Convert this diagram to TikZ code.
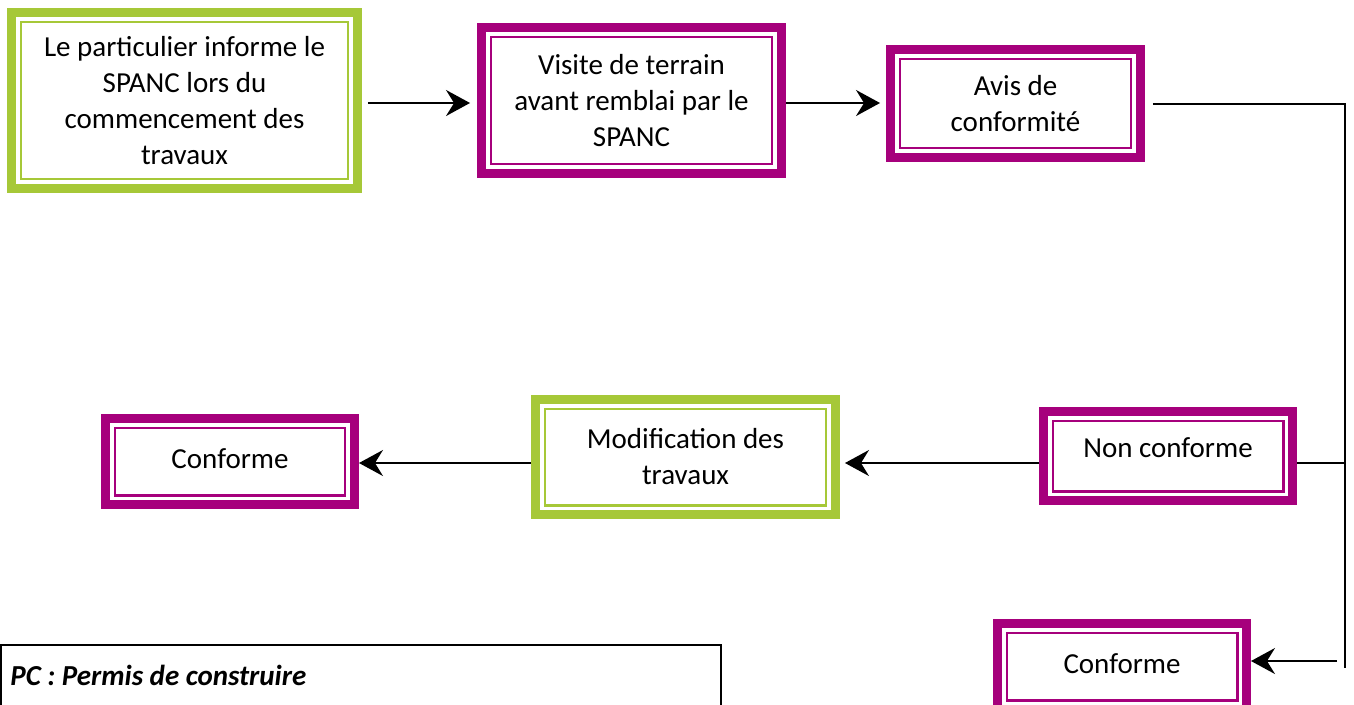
\documentclass[tikz,border=0pt]{standalone}
\usepackage{fontspec}
\setmainfont{Carlito}
\usetikzlibrary{arrows.meta}

\definecolor{prune}{RGB}{166,0,124}
\definecolor{vert}{RGB}{166,200,56}
\newcommand\etapefont{\fontsize{16.5}{20.5}\selectfont}

\tikzset{
  etape/.style={draw=#1, line width=0.18cm, fill=white, align=center, inner sep=0pt, font=\etapefont,
    path picture={\draw[#1, line width=0.05cm]
      ([shift={(0.185cm,0.185cm)}]path picture bounding box.south west) rectangle
      ([shift={(-0.185cm,-0.185cm)}]path picture bounding box.north east);}},
  trait/.style={line width=0.035cm},
  fleche/.style={trait, -{Stealth[length=0.48cm, width=0.52cm, inset=0.16cm]}}
}

\begin{document}
\begin{tikzpicture}[x=0.02cm, y=-0.02cm]

        \useasboundingbox (0,0) rectangle (1354,704);
        \clip (0,0) rectangle (1354,704);

        %===========================
        % Etapes du haut
        %===========================

        \node (inform) at (184.5,100.5) [etape=vert, minimum width=6.92cm, minimum height=3.52cm]
              {Le particulier informe le\\SPANC lors du\\commencement des\\travaux};
        \node (visite) at (631.5,100.5) [etape=prune, minimum width=6.0cm, minimum height=2.92cm]
              {Visite de terrain\\avant remblai par le\\SPANC};
        \node (avis) at (1015.5,103.5) [etape=prune, minimum width=5.0cm, minimum height=2.16cm]
              {Avis de\\conformit\'e};

        %===========================
        % Etapes du bas
        %===========================

        \node (nonconf) at (1168,456) [etape=prune, minimum width=4.98cm, minimum height=1.78cm,
              text depth=0.32cm] {Non conforme};
        \node (modif) at (685.5,457) [etape=vert, minimum width=6.0cm, minimum height=2.3cm]
              {Modification des\\travaux};
        \node (conf1) at (230,461.5) [etape=prune, minimum width=4.98cm, minimum height=1.72cm,
              text depth=0.12cm] {Conforme};
        \node (conf2) at (1122,666.5) [etape=prune, minimum width=4.98cm, minimum height=1.72cm,
              text depth=0.12cm] {Conforme};

        % Legende
        \draw[line width=0.03cm] (1,645) rectangle (721,730);
        \node (legende) at (10,675) [anchor=west, inner sep=0pt, font=\etapefont\bfseries\itshape]
              {PC : Permis de construire};

        %===========================
        % Liaisons
        %===========================

        \coordinate (ligne1) at (0,103);
        \coordinate (coin) at (1345,104);
        \coordinate (jonction) at (1345,463);
        \coordinate (pied) at (1345,668);
        \coordinate (depart) at (1337,661);

        \draw[fleche, shorten <=0.12cm, shorten >=0.14cm] (inform.east |- ligne1) to (visite.west |- ligne1);
        \draw[fleche, shorten >=0.12cm] (visite.east |- ligne1) to (avis.west |- ligne1);

        % Cote droit
        \draw[trait, shorten <=0.16cm] (avis.east |- coin) -- (coin) -- (pied);
        \draw[trait] (nonconf.east |- jonction) -- (jonction);
        \draw[fleche] (depart) to (conf2.east |- depart);

        % Retour vers la gauche
        \draw[fleche, shorten >=0.1cm] (nonconf.west |- jonction) to (modif.east |- jonction);
        \draw[fleche] (modif.west |- jonction) to (conf1.east |- jonction);

\end{tikzpicture}
\end{document}
